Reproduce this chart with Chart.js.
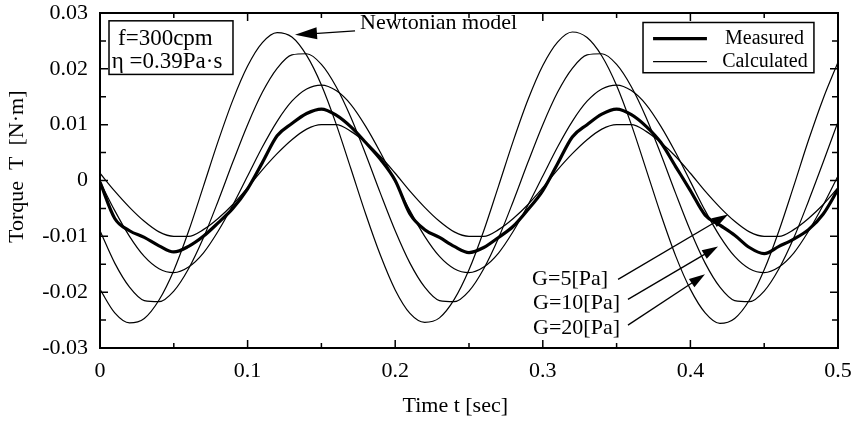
<!DOCTYPE html>
<html>
<head>
<meta charset="utf-8">
<script src="https://cdn.jsdelivr.net/npm/chart.js@4"></script>
<style>
html, body { margin: 0; padding: 0; background: #fff; }
#wrap { width: 854px; height: 423px; }
</style>
</head>
<body>
<div id="wrap"><canvas id="torqueChart" width="854" height="423"></canvas></div>
<script>
// --- Data ---
const times = [0, 0.01, 0.02, 0.03, 0.04, 0.05, 0.06, 0.07, 0.08, 0.09,
    0.10, 0.11, 0.12, 0.13, 0.14, 0.15, 0.16, 0.17, 0.18, 0.19,
    0.20, 0.21, 0.22, 0.23, 0.24, 0.25, 0.26, 0.27, 0.28, 0.29,
    0.30, 0.31, 0.32, 0.33, 0.34, 0.35, 0.36, 0.37, 0.38, 0.39,
    0.40, 0.41, 0.42, 0.43, 0.44, 0.45, 0.46, 0.47, 0.48, 0.49, 0.50];

const measured = [-0.0003, -0.0068, -0.0090, -0.0102, -0.0117, -0.0128, -0.0118, -0.0100, -0.0076, -0.0050,
    -0.0015, 0.0032, 0.0080, 0.0102, 0.0120, 0.0128, 0.0117, 0.0096, 0.0068, 0.0038,
    0.0000, -0.0060, -0.0088, -0.0102, -0.0118, -0.0129, -0.0120, -0.0102, -0.0082, -0.0052,
    -0.0018, 0.0030, 0.0078, 0.0100, 0.0119, 0.0128, 0.0118, 0.0097, 0.0068, 0.0025,
    -0.0018, -0.0062, -0.0080, -0.0098, -0.0120, -0.0131, -0.0118, -0.0105, -0.0088, -0.0060, -0.0016];

const newtonian = [-0.0195, -0.0237, -0.0255, -0.0247, -0.0214, -0.0161, -0.0091, -0.0011, 0.0070, 0.0144,
    0.0205, 0.0247, 0.0265, 0.0257, 0.0224, 0.0171, 0.0101, 0.0021, -0.0060, -0.0134,
    -0.0196, -0.0238, -0.0254, -0.0246, -0.0213, -0.0160, -0.0090, -0.0010, 0.0071, 0.0145,
    0.0206, 0.0248, 0.0266, 0.0256, 0.0223, 0.0170, 0.0100, 0.0020, -0.0061, -0.0135,
    -0.0195, -0.0237, -0.0256, -0.0247, -0.0214, -0.0160, -0.0090, -0.0010, 0.0072, 0.0147, 0.0212];

const g5 = [0.0013, -0.0019, -0.0048, -0.0073, -0.0092, -0.0100, -0.0100, -0.0088, -0.0068, -0.0043,
    -0.0013, 0.0019, 0.0048, 0.0073, 0.0092, 0.0100, 0.0100, 0.0088, 0.0068, 0.0043,
    0.0013, -0.0019, -0.0048, -0.0073, -0.0092, -0.0100, -0.0100, -0.0088, -0.0068, -0.0043,
    -0.0013, 0.0019, 0.0048, 0.0073, 0.0092, 0.0100, 0.0100, 0.0088, 0.0068, 0.0043,
    0.0013, -0.0019, -0.0048, -0.0073, -0.0092, -0.0100, -0.0100, -0.0088, -0.0068, -0.0043, -0.0013];

const g10 = [-0.0002, -0.0054, -0.0100, -0.0136, -0.0158, -0.0165, -0.0155, -0.0130, -0.0091, -0.0044,
    0.0008, 0.0060, 0.0106, 0.0142, 0.0164, 0.0171, 0.0161, 0.0136, 0.0097, 0.0050,
    -0.0002, -0.0054, -0.0100, -0.0136, -0.0158, -0.0165, -0.0155, -0.0130, -0.0091, -0.0044,
    0.0008, 0.0060, 0.0106, 0.0142, 0.0164, 0.0171, 0.0161, 0.0136, 0.0097, 0.0050,
    -0.0002, -0.0054, -0.0100, -0.0136, -0.0158, -0.0165, -0.0155, -0.0130, -0.0091, -0.0044, 0.0008];

const g20 = [-0.0090, -0.0148, -0.0191, -0.0215, -0.0217, -0.0198, -0.0158, -0.0103, -0.0037, 0.0033,
    0.0100, 0.0158, 0.0201, 0.0225, 0.0227, 0.0208, 0.0168, 0.0113, 0.0047, -0.0023,
    -0.0090, -0.0148, -0.0191, -0.0215, -0.0217, -0.0198, -0.0158, -0.0103, -0.0037, 0.0033,
    0.0100, 0.0158, 0.0201, 0.0225, 0.0227, 0.0208, 0.0168, 0.0113, 0.0047, -0.0023,
    -0.0090, -0.0148, -0.0191, -0.0215, -0.0217, -0.0198, -0.0158, -0.0103, -0.0037, 0.0033, 0.0105];

const xTickLabels = ['0', '0.1', '0.2', '0.3', '0.4', '0.5'];
const yTickLabels = ['-0.03', '-0.02', '-0.01', '0', '0.01', '0.02', '0.03'];

const SERIF = '"Liberation Serif", "Times New Roman", serif';

function pts(arr) {
    return times.map((t, i) => ({ x: t, y: arr[i] }));
}

function line(data, width) {
    return {
        data: pts(data),
        borderColor: '#000',
        borderWidth: width,
        pointRadius: 0,
        fill: false,
        cubicInterpolationMode: 'monotone'
    };
}

function arrow(ctx, x0, y0, x1, y1, len, half) {
    const ang = Math.atan2(y1 - y0, x1 - x0);
    const c = Math.cos(ang), s = Math.sin(ang);
    ctx.beginPath();
    ctx.moveTo(x0, y0);
    ctx.lineTo(x1 - c * len * 0.7, y1 - s * len * 0.7);
    ctx.stroke();
    ctx.beginPath();
    ctx.moveTo(x1, y1);
    ctx.lineTo(x1 - c * len + s * half, y1 - s * len - c * half);
    ctx.lineTo(x1 - c * len - s * half, y1 - s * len + c * half);
    ctx.closePath();
    ctx.fill();
}

// frame with inward ticks on all four sides + annotations
const frameAndNotes = {
    id: 'frameAndNotes',
    afterDatasetsDraw(chart) {
        const { ctx, chartArea: a, scales: { x, y } } = chart;
        const px = v => x.getPixelForValue(v);
        const py = v => y.getPixelForValue(v);
        ctx.save();
        ctx.strokeStyle = '#000';
        ctx.fillStyle = '#000';
        ctx.lineWidth = 2;
        ctx.strokeRect(a.left, a.top, a.right - a.left, a.bottom - a.top);

        ctx.lineWidth = 1.5;
        const xv = x.ticks.map(t => t.value);
        const yv = y.ticks.map(t => t.value);
        xv.forEach((v, i) => {
            const p = px(v);
            ctx.beginPath();
            ctx.moveTo(p, a.bottom); ctx.lineTo(p, a.bottom - 8);
            ctx.moveTo(p, a.top); ctx.lineTo(p, a.top + 8);
            if (i < xv.length - 1) {
                const m = px((v + xv[i + 1]) / 2);
                ctx.moveTo(m, a.bottom); ctx.lineTo(m, a.bottom - 5);
                ctx.moveTo(m, a.top); ctx.lineTo(m, a.top + 5);
            }
            ctx.stroke();
        });
        yv.forEach((v, i) => {
            const p = py(v);
            ctx.beginPath();
            ctx.moveTo(a.left, p); ctx.lineTo(a.left + 8, p);
            ctx.moveTo(a.right, p); ctx.lineTo(a.right - 8, p);
            if (i < yv.length - 1) {
                const m = py((v + yv[i + 1]) / 2);
                ctx.moveTo(a.left, m); ctx.lineTo(a.left + 6, m);
                ctx.moveTo(a.right, m); ctx.lineTo(a.right - 6, m);
            }
            ctx.stroke();
        });

        // info box
        ctx.lineWidth = 1.5;
        ctx.fillStyle = '#fff';
        ctx.fillRect(px(0.0061), py(0.0286), px(0.0901) - px(0.0061), py(0.0190) - py(0.0286));
        ctx.strokeRect(px(0.0061), py(0.0286), px(0.0901) - px(0.0061), py(0.0190) - py(0.0286));
        ctx.fillStyle = '#000';
        ctx.font = '23px ' + SERIF;
        ctx.textAlign = 'left';
        ctx.textBaseline = 'middle';
        ctx.fillText('f=300cpm', px(0.0122), py(0.0253));
        ctx.fillText('\u03B7 =0.39Pa\u00B7s', px(0.0080), py(0.0213));

        // legend box
        ctx.fillStyle = '#fff';
        ctx.fillRect(px(0.3679), py(0.0283), px(0.4837) - px(0.3679), py(0.0193) - py(0.0283));
        ctx.strokeRect(px(0.3679), py(0.0283), px(0.4837) - px(0.3679), py(0.0193) - py(0.0283));
        ctx.fillStyle = '#000';
        ctx.lineWidth = 3.2;
        ctx.beginPath();
        ctx.moveTo(px(0.3747), py(0.0254)); ctx.lineTo(px(0.4112), py(0.0254));
        ctx.stroke();
        ctx.lineWidth = 1.2;
        ctx.beginPath();
        ctx.moveTo(px(0.3747), py(0.0213)); ctx.lineTo(px(0.4112), py(0.0213));
        ctx.stroke();
        ctx.font = '20px ' + SERIF;
        ctx.fillText('Measured', px(0.4235), py(0.0254));
        ctx.fillText('Calculated', px(0.4215), py(0.0213));

        // Newtonian model note
        ctx.lineWidth = 1.3;
        ctx.font = '22px ' + SERIF;
        ctx.fillText('Newtonian model', px(0.1762), py(0.0282));
        arrow(ctx, px(0.1728), py(0.0268), px(0.1321), py(0.0261), 22, 6);

        // G notes
        ctx.textAlign = 'right';
        ctx.fillText('G=5[Pa]', px(0.3442), py(-0.0177));
        ctx.fillText('G=10[Pa]', px(0.3523), py(-0.0220));
        ctx.fillText('G=20[Pa]', px(0.3523), py(-0.0264));
        arrow(ctx, px(0.3510), py(-0.0177), px(0.4255), py(-0.0061), 16, 5);
        arrow(ctx, px(0.3577), py(-0.0213), px(0.4187), py(-0.0118), 16, 5);
        arrow(ctx, px(0.3577), py(-0.0259), px(0.4099), py(-0.0168), 16, 5);
        ctx.restore();
    }
};

const ctx = document.getElementById('torqueChart').getContext('2d');
new Chart(ctx, {
    type: 'line',
    data: {
        datasets: [
            line(newtonian, 1.2),
            line(g20, 1.2),
            line(g10, 1.2),
            line(g5, 1.2),
            line(measured, 3.2)
        ]
    },
    options: {
        responsive: false,
        animation: false,
        devicePixelRatio: 1,
        layout: { padding: { top: 13, right: 16, left: 0, bottom: 0 } },
        plugins: {
            legend: { display: false },
            tooltip: { enabled: false }
        },
        scales: {
            x: {
                type: 'linear',
                min: 0,
                max: 0.5,
                afterFit(s) {
                    s.height = 75;
                    s.paddingLeft = 0;
                    s.paddingRight = 0;
                },
                grid: { display: false, drawTicks: false },
                border: { display: false },
                ticks: {
                    stepSize: 0.1,
                    autoSkip: false,
                    maxRotation: 0,
                    padding: 10,
                    color: '#000',
                    font: { family: SERIF, size: 22 },
                    callback: (v, i) => xTickLabels[i]
                },
                title: {
                    display: true,
                    // trailing spaces nudge the centred title left, as in the figure
                    text: 'Time t [sec]     ',
                    color: '#000',
                    font: { family: SERIF, size: 22 },
                    padding: 4
                }
            },
            y: {
                min: -0.03,
                max: 0.03,
                afterFit(s) {
                    s.width = 100;
                    s.paddingTop = 0;
                    s.paddingBottom = 0;
                },
                grid: { display: false, drawTicks: false },
                border: { display: false },
                ticks: {
                    stepSize: 0.01,
                    autoSkip: false,
                    padding: 12,
                    color: '#000',
                    font: { family: SERIF, size: 22 },
                    callback: (v, i) => yTickLabels[i]
                },
                title: {
                    display: true,
                    text: '     Torque  T  [N\u00B7m]',
                    color: '#000',
                    font: { family: SERIF, size: 22 },
                    padding: 4
                }
            }
        }
    },
    plugins: [frameAndNotes]
});
</script>
</body>
</html>
